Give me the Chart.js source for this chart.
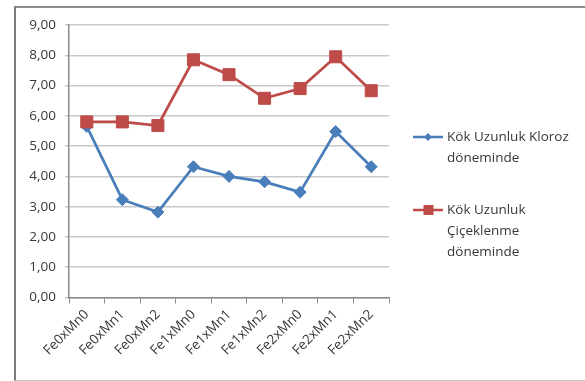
<!DOCTYPE html>
<html>
<head>
<meta charset="utf-8">
<script src="https://cdn.jsdelivr.net/npm/chart.js@4/dist/chart.umd.min.js"></script>
<style>
  html, body { margin: 0; padding: 0; background: #fff; }
  #wrap { position: relative; width: 585px; height: 381px; overflow: hidden; }
  #frame {
    position: absolute; left: 14px; top: 6px; width: 590px; height: 372px;
    border-left: 2px solid #7c7c7c; border-top: 2px solid #8c8c8c; border-bottom: 1px solid #c8c8c8;
  }
  canvas { position: absolute; left: 0; top: 0; }
</style>
</head>
<body>
<div id="wrap">
  <div id="frame"></div>
  <canvas id="kokChart" width="585" height="381"></canvas>
</div>
<script>
const categories = ['Fe0xMn0', 'Fe0xMn1', 'Fe0xMn2', 'Fe1xMn0', 'Fe1xMn1', 'Fe1xMn2', 'Fe2xMn0', 'Fe2xMn1', 'Fe2xMn2'];
const klorozDonemi = [5.65, 3.23, 2.82, 4.32, 4.00, 3.82, 3.48, 5.48, 4.32];
const ciceklenmeDonemi = [5.80, 5.80, 5.68, 7.85, 7.36, 6.58, 6.90, 7.95, 6.83];
const seriesNames = [
  ['Kök Uzunluk Kloroz', 'döneminde'],
  ['Kök Uzunluk', 'Çiçeklenme', 'döneminde'],
];

const BLUE = '#4a7ebb';
const RED = '#be4b48';
const TEXT = '#383838';
const FONT = "'Open Sans', sans-serif";

// legend on the right, text wrapped over several lines
const sideLegend = {
  id: 'sideLegend',
  afterDraw(chart) {
    const ctx = chart.ctx;
    const rows = [137, 210];
    ctx.save();
    chart.data.datasets.forEach((ds, i) => {
      const y = rows[i];
      ctx.strokeStyle = ds.borderColor;
      ctx.lineWidth = 2.5;
      ctx.beginPath();
      ctx.moveTo(413, y);
      ctx.lineTo(443, y);
      ctx.stroke();
      ctx.fillStyle = ds.borderColor;
      ctx.beginPath();
      if (ds.pointStyle === 'rectRot') {
        ctx.moveTo(428, y - 4); ctx.lineTo(432, y); ctx.lineTo(428, y + 4); ctx.lineTo(424, y);
      } else {
        ctx.rect(423.5, y - 5, 10, 10);
      }
      ctx.fill();
      ctx.fillStyle = TEXT;
      ctx.font = '13.5px ' + FONT;
      ctx.textBaseline = 'middle';
      ds.label.forEach((line, k) => ctx.fillText(line, 447, y + k * 21));
    });
    ctx.restore();
  }
};

new Chart(document.getElementById('kokChart'), {
  type: 'line',
  data: {
    labels: categories,
    datasets: [
      {
        label: seriesNames[0],
        data: klorozDonemi,
        borderColor: BLUE,
        backgroundColor: BLUE,
        borderWidth: 2.75,
        pointStyle: 'rectRot',
        pointRadius: 6,
        pointBorderWidth: 1,
        tension: 0,
        order: 1,
      },
      {
        label: seriesNames[1],
        data: ciceklenmeDonemi,
        borderColor: RED,
        backgroundColor: RED,
        borderWidth: 2.75,
        pointStyle: 'rect',
        pointRadius: 8.5,
        pointBorderWidth: 1,
        tension: 0,
        order: 0,
      },
    ],
  },
  options: {
    responsive: false,
    animation: false,
    layout: { padding: { left: 15, right: 196, top: 25, bottom: 0 } },
    plugins: {
      legend: { display: false },
      tooltip: { enabled: false },
    },
    scales: {
      x: {
        offset: true,
        grid: { offset: true, drawOnChartArea: false, tickLength: 6, color: '#8a8a8a', lineWidth: 1 },
        border: { color: '#8a8a8a', width: 1.5 },
        ticks: {
          minRotation: 45,
          maxRotation: 45,
          padding: 3,
          color: TEXT,
          font: { family: FONT, size: 13.5 },
        },
        afterFit: s => { s.height = 83.5; },
      },
      y: {
        min: 0,
        max: 9,
        ticks: {
          stepSize: 1,
          padding: 9,
          color: TEXT,
          font: { family: FONT, size: 13.5 },
          callback: v => v.toFixed(2).replace('.', ','),
        },
        grid: { color: '#c8c8c8', lineWidth: 1.5, tickLength: 4 },
        border: { color: '#8a8a8a', width: 1.5 },
        afterFit: s => { s.width = 54; },
      },
    },
  },
  plugins: [sideLegend],
});
</script>
</body>
</html>
